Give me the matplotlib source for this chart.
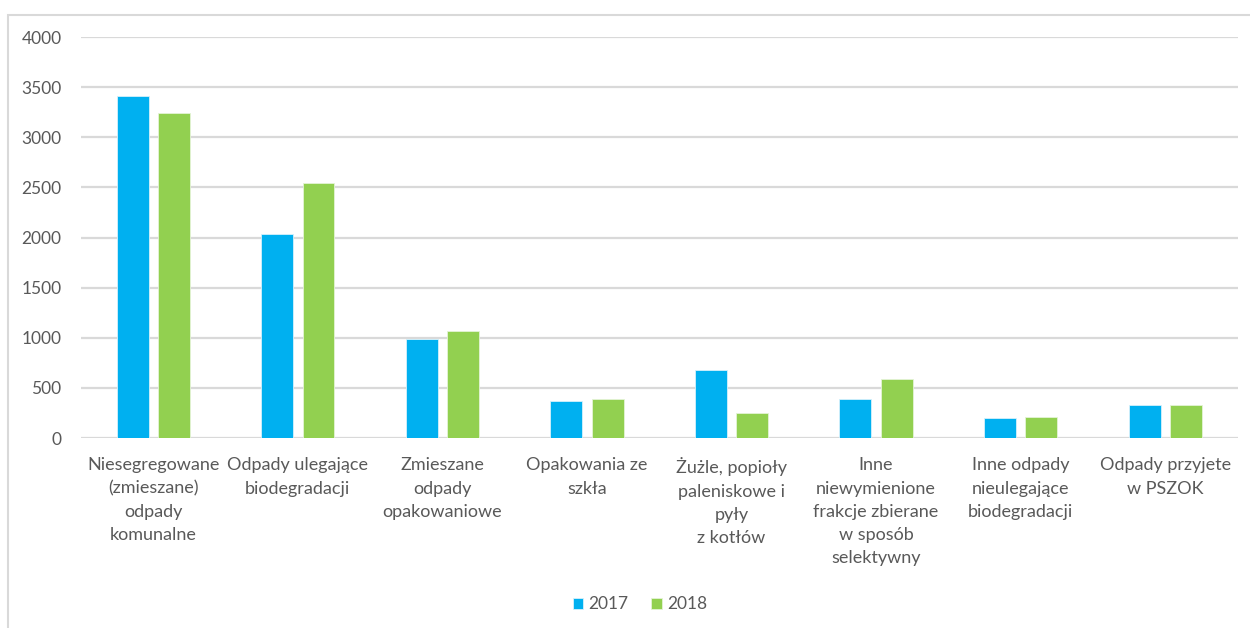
import numpy as np
import matplotlib
matplotlib.use("Agg")
import matplotlib.pyplot as plt
from matplotlib.patches import Rectangle

# categories and values (Mg)
categories = ["Niesegregowane\n(zmieszane)\nodpady\nkomunalne",
              "Odpady ulegające\nbiodegradacji",
              "Zmieszane\nodpady\nopakowaniowe",
              "Opakowania ze\nszkła",
              "Żużle, popioły\npaleniskowe i\npyły\nz kotłów",
              "Inne\nniewymienione\nfrakcje zbierane\nw sposób\nselektywny",
              "Inne odpady\nnieulegające\nbiodegradacji",
              "Odpady przyjete\nw PSZOK"]
vals_2017 = [3410, 2035, 990, 370, 680, 393, 196, 333]
vals_2018 = [3242, 2544, 1070, 391, 252, 592, 213, 333]
years = ["2017", "2018"]
yticks = [0, 500, 1000, 1500, 2000, 2500, 3000, 3500, 4000]

plt.rcParams['font.family'] = ['Lato', 'DejaVu Sans']
text_color = "#595959"
grid_color = "#d9d9d9"

fig = plt.figure(figsize=(12.5, 6.28), dpi=100)
ax = fig.add_axes([0.0648, 0.3025, 0.9252, 0.6385])

x = np.arange(len(categories))
w = 0.221
ax.bar(x - 0.143, vals_2017, w, color="#00B0F0", edgecolor="#d6f1fb",
       linewidth=0.6, label=years[0], zorder=3)
ax.bar(x + 0.143, vals_2018, w, color="#92D050", edgecolor="#e4f3d6",
       linewidth=0.6, label=years[1], zorder=3)

ax.set_xlim(-0.5, len(categories) - 0.5)
ax.set_ylim(0, 4000)
ax.set_yticks(yticks)
ax.set_xticks(x)
ax.set_xticklabels(categories, fontsize=13, color=text_color,
                   linespacing=1.55, va="top")
ax.tick_params(axis="y", labelsize=12.5, labelcolor=text_color, length=0,
               pad=14)
ax.tick_params(axis="x", length=0, pad=14)
ax.grid(axis="y", color=grid_color, linewidth=1.6, zorder=0)
for s in ax.spines.values():
    s.set_visible(False)

fig.legend(loc="center", bbox_to_anchor=(0.512, 0.038), ncol=2, frameon=False,
           fontsize=12.5, labelcolor=text_color, handlelength=0.6,
           handleheight=0.6, handletextpad=0.3, columnspacing=1.3)

# light border round the chart area
fig.patches.append(Rectangle((0.0065, -0.01), 1.0, 0.994 - 0.008,
                             transform=fig.transFigure, fill=False,
                             edgecolor=grid_color, linewidth=1.5))

fig.savefig("out.png", dpi=100)
